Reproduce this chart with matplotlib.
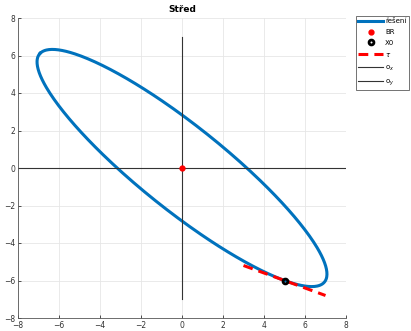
import numpy as np
import matplotlib
matplotlib.use('Agg')
import matplotlib.pyplot as plt

# conic  a*x^2 + 2*b*x*y + c*y^2 = r  (centre at origin)
conic_abc = [1.0, 1.0, 1.25]
conic_rhs = 10.0
centre = [0.0, 0.0]
x0 = [5.0, -6.0]
tangent_dir = [2.5, -1.0]
tangent_t = [-0.8, 0.8]
ox_x = [-8, 8]
oy_y = [-7, 7]
ticks = [-8, -6, -4, -2, 0, 2, 4, 6, 8]
labels = ['řešení', 'BR', 'X0', r'$\tau$', r'o$_x$', r'o$_y$']

a, b, c = conic_abc
A = np.array([[a, b], [b, c]])
w, V = np.linalg.eigh(A)
t = np.linspace(0, 2 * np.pi, 400)
pts = V @ np.vstack([np.sqrt(conic_rhs / w[0]) * np.cos(t),
                     np.sqrt(conic_rhs / w[1]) * np.sin(t)])
ex, ey = pts[0] + centre[0], pts[1] + centre[1]

tt = np.array(tangent_t)
tx = x0[0] + tangent_dir[0] * tt
ty = x0[1] + tangent_dir[1] * tt

plt.rcParams['font.family'] = ['DejaVu Sans']
fig = plt.figure(figsize=(4.11, 3.31), dpi=100)
ax = fig.add_axes([18 / 411, 13 / 331, 328 / 411, 300 / 331])

ax.plot(ex, ey, color='#0072BD', lw=2.2, label=labels[0])
ax.plot(centre[0], centre[1], 'o', color='red', ms=3.5, label=labels[1], zorder=5)
ax.plot(x0[0], x0[1], 'o', mfc='none', mec='black', mew=2.0, ms=3.5, label=labels[2], zorder=5)
ax.plot(tx, ty, color='red', lw=2.2, dashes=(3.2, 2), label=labels[3])
ax.plot(ox_x, [0, 0], color='#333333', lw=0.8, label=labels[4])
ax.plot([0, 0], oy_y, color='#333333', lw=0.8, label=labels[5])

ax.set_xlim(-8, 8)
ax.set_ylim(-8, 8)
ax.set_xticks(ticks)
ax.set_yticks(ticks)
ax.grid(True, color='#e6e6e6', lw=0.6)
ax.set_axisbelow(True)
for s in ['top', 'right']:
    ax.spines[s].set_visible(False)
for s in ['left', 'bottom']:
    ax.spines[s].set_color('#555555')
    ax.spines[s].set_linewidth(0.6)
ax.tick_params(direction='in', length=2.5, width=0.6, labelsize=5.5, colors='#333333', pad=2)
ax.set_title('Střed', fontsize=6.5, fontweight='bold', pad=4)

leg = ax.legend(loc='upper left', bbox_to_anchor=(356 / 411, 1 - 16 / 331), bbox_transform=fig.transFigure,
                fontsize=5, frameon=True, fancybox=False, edgecolor='#333333', handlelength=3.6,
                borderpad=0.3, labelspacing=0.7, handletextpad=0.3, borderaxespad=0)
leg.get_frame().set_linewidth(0.6)

fig.savefig('out.png', dpi=100)
